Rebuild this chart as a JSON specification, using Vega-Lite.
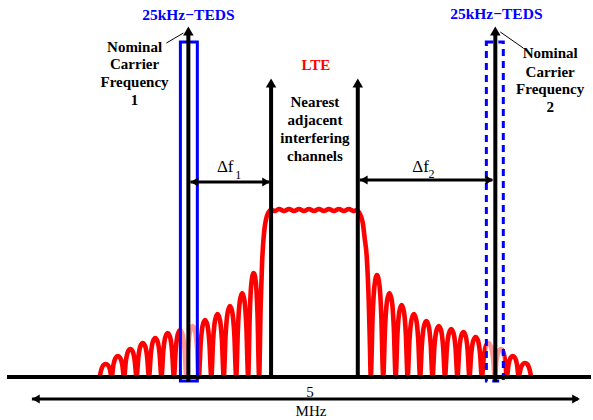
{
  "$schema": "https://vega.github.io/schema/vega-lite/v6.json",
  "width": 593,
  "height": 420,
  "autosize": {"type": "fit", "contains": "padding"},
  "padding": 0,
  "background": "white",
  "config": {"view": {"stroke": null}},
  "datasets": {
    "spectrum": [
      {"x":100,"y":0},{"x":101.8,"y":7.8},{"x":103.6,"y":11.7},{"x":106,"y":13},{"x":108.4,"y":11.7},{"x":110.2,"y":7.8},{"x":112,"y":0},
      {"x":113.9,"y":12.6},{"x":115.8,"y":18.9},{"x":118.25,"y":21},{"x":120.75,"y":18.9},{"x":122.6,"y":12.6},{"x":124.5,"y":0},
      {"x":126.4,"y":16.8},{"x":128.3,"y":25.2},{"x":130.75,"y":28},{"x":133.25,"y":25.2},{"x":135.1,"y":16.8},{"x":137,"y":0},
      {"x":138.9,"y":20.4},{"x":140.8,"y":30.6},{"x":143.25,"y":34},{"x":145.75,"y":30.6},{"x":147.6,"y":20.4},{"x":149.5,"y":0},
      {"x":151.4,"y":23.4},{"x":153.3,"y":35.1},{"x":155.75,"y":39},{"x":158.25,"y":35.1},{"x":160.1,"y":23.4},{"x":162,"y":0},
      {"x":163.9,"y":26.4},{"x":165.8,"y":39.6},{"x":168.25,"y":44},{"x":170.75,"y":39.6},{"x":172.6,"y":26.4},{"x":174.5,"y":0},
      {"x":176.4,"y":28.2},{"x":178.3,"y":42.3},{"x":180.75,"y":47},{"x":183.25,"y":42.3},{"x":185.1,"y":28.2},{"x":187,"y":0},
      {"x":188.9,"y":30.6},{"x":190.8,"y":45.9},{"x":193.25,"y":51},{"x":195.75,"y":45.9},{"x":197.6,"y":30.6},{"x":199.5,"y":0},
      {"x":201.4,"y":34.2},{"x":203.3,"y":51.3},{"x":205.75,"y":57},{"x":208.25,"y":51.3},{"x":210.1,"y":34.2},{"x":212,"y":0},
      {"x":213.9,"y":37.8},{"x":215.8,"y":56.7},{"x":218.25,"y":63},{"x":220.75,"y":56.7},{"x":222.6,"y":37.8},{"x":224.5,"y":0},
      {"x":226.4,"y":42.6},{"x":228.3,"y":63.9},{"x":230.75,"y":71},{"x":233.25,"y":63.9},{"x":235.1,"y":42.6},{"x":237,"y":0},
      {"x":238.8,"y":50.4},{"x":240.6,"y":75.6},{"x":243,"y":84},{"x":245.4,"y":75.6},{"x":247.2,"y":50.4},{"x":249,"y":0},
      {"x":250.6,"y":62.4},{"x":252.2,"y":93.6},{"x":254.5,"y":104},{"x":256.8,"y":93.6},{"x":258.4,"y":62.4},{"x":260,"y":0},
      {"x":261.5,"y":70},{"x":263,"y":115},{"x":265,"y":145},{"x":267,"y":158},{"x":269,"y":164},{"x":272,"y":167},
      {"x":276,"y":166},{"x":280,"y":168},{"x":285,"y":166},{"x":290,"y":168},{"x":295,"y":166},{"x":300,"y":168},{"x":305,"y":166},
      {"x":310,"y":168},{"x":315,"y":166},{"x":320,"y":168},{"x":325,"y":166},{"x":330,"y":168},{"x":335,"y":166},{"x":340,"y":168},
      {"x":345,"y":166},{"x":350,"y":168},{"x":355,"y":166},{"x":358,"y":167},
      {"x":360,"y":165},{"x":362,"y":161},{"x":364,"y":154},{"x":366,"y":138},{"x":368,"y":120},{"x":370,"y":75},{"x":371.2,"y":30},{"x":372,"y":0},
      {"x":373.9,"y":61.2},{"x":375.8,"y":91.8},{"x":378.25,"y":102},{"x":380.75,"y":91.8},{"x":382.6,"y":61.2},{"x":384.5,"y":0},
      {"x":386.4,"y":50.4},{"x":388.3,"y":75.6},{"x":390.75,"y":84},{"x":393.25,"y":75.6},{"x":395.1,"y":50.4},{"x":397,"y":0},
      {"x":398.8,"y":43.2},{"x":400.6,"y":64.8},{"x":403,"y":72},{"x":405.4,"y":64.8},{"x":407.2,"y":43.2},{"x":409,"y":0},
      {"x":410.9,"y":37.8},{"x":412.8,"y":56.7},{"x":415.25,"y":63},{"x":417.75,"y":56.7},{"x":419.6,"y":37.8},{"x":421.5,"y":0},
      {"x":423.4,"y":33.6},{"x":425.3,"y":50.4},{"x":427.75,"y":56},{"x":430.25,"y":50.4},{"x":432.1,"y":33.6},{"x":434,"y":0},
      {"x":435.9,"y":30.6},{"x":437.8,"y":45.9},{"x":440.25,"y":51},{"x":442.75,"y":45.9},{"x":444.6,"y":30.6},{"x":446.5,"y":0},
      {"x":448.4,"y":28.8},{"x":450.3,"y":43.2},{"x":452.75,"y":48},{"x":455.25,"y":43.2},{"x":457.1,"y":28.8},{"x":459,"y":0},
      {"x":460.8,"y":27},{"x":462.6,"y":40.5},{"x":465,"y":45},{"x":467.4,"y":40.5},{"x":469.2,"y":27},{"x":471,"y":0},
      {"x":472.9,"y":24},{"x":474.8,"y":36},{"x":477.25,"y":40},{"x":479.75,"y":36},{"x":481.6,"y":24},{"x":483.5,"y":0},
      {"x":485.5,"y":20.4},{"x":487.4,"y":30.6},{"x":490,"y":34},{"x":492.6,"y":30.6},{"x":494.5,"y":20.4},{"x":496.5,"y":0},
      {"x":498.3,"y":16.8},{"x":500.1,"y":25.2},{"x":502.5,"y":28},{"x":504.9,"y":25.2},{"x":506.7,"y":16.8},{"x":508.5,"y":0},
      {"x":510.3,"y":12.6},{"x":512.1,"y":18.9},{"x":514.5,"y":21},{"x":516.9,"y":18.9},{"x":518.7,"y":12.6},{"x":520.5,"y":0},
      {"x":522.4,"y":8.4},{"x":524.3,"y":12.6},{"x":526.75,"y":14},{"x":529.25,"y":12.6},{"x":531.1,"y":8.4},{"x":533,"y":0}
    ],
    "boxSolid": [{"x":181,"x2":198,"y":-4,"y2":335}],
    "boxDashed": [{"x":488,"x2":505,"y":-4,"y2":335}],
    "vlines": [
      {"x":189,"y":-5,"y2":346},
      {"x":272,"y":-2,"y2":294},
      {"x":359,"y":-2,"y2":294},
      {"x":497,"y":-5,"y2":346}
    ],
    "upHeads": [
      {"x":189,"y":346},{"x":272,"y":294},{"x":359,"y":294},{"x":497,"y":346}
    ],
    "hlines": [
      {"x":191,"x2":270,"y":195},
      {"x":361,"x2":494,"y":197},
      {"x":32,"x2":580,"y":-22}
    ],
    "leftHeads": [{"x":195,"y":195},{"x":365,"y":197},{"x":36,"y":-22}],
    "rightHeads": [{"x":267,"y":195},{"x":491,"y":197},{"x":578,"y":-22}],
    "baseline": [{"x":7,"x2":593,"y":0}],
    "leaders": [
      {"x":167,"x2":184,"y":334,"y2":344},
      {"x":502,"x2":525,"y":345,"y2":329}
    ],
    "tedsLabels": [
      {"x":189,"y":362,"label":"25kHz−TEDS"},
      {"x":498,"y":363,"label":"25kHz−TEDS"}
    ],
    "lteLabel": [{"x":317,"y":312,"label":"LTE"}],
    "boldLabels": [
      {"x":135,"y":330,"label":"Nominal"},
      {"x":135,"y":313,"label":"Carrier"},
      {"x":135,"y":295,"label":"Frequency"},
      {"x":135,"y":277,"label":"1"},
      {"x":552,"y":324,"label":"Nominal"},
      {"x":552,"y":305,"label":"Carrier"},
      {"x":552,"y":288,"label":"Frequency"},
      {"x":552,"y":270,"label":"2"},
      {"x":316,"y":275,"label":"Nearest"},
      {"x":316,"y":257,"label":"adjacent"},
      {"x":316,"y":239,"label":"interfering"},
      {"x":316,"y":221,"label":"channels"}
    ],
    "deltaLabels": [
      {"x":226,"y":210,"label":"Δf"},
      {"x":422,"y":210,"label":"Δf"}
    ],
    "subLabels": [
      {"x":239,"y":202,"label":"1"},
      {"x":433,"y":203,"label":"2"}
    ],
    "fiveLabel": [{"x":311,"y":-20,"label":"5"}],
    "unitLabel": [{"x":312,"y":-34,"label":"MHz"}]
  },
  "encoding": {
    "x": {"field":"x","type":"quantitative","scale":{"domain":[0,593],"nice":false,"zero":false},"axis":null},
    "y": {"field":"y","type":"quantitative","scale":{"domain":[-43,377],"nice":false,"zero":false},"axis":null}
  },
  "layer": [
    {
      "data": {"name":"spectrum"},
      "mark": {"type":"line","color":"#ff0000","strokeWidth":4.6,"interpolate":"monotone","strokeJoin":"round"}
    },
    {
      "data": {"name":"boxSolid"},
      "mark": {"type":"rect","fill":"white","fillOpacity":0.6,"stroke":"#0000ff","strokeWidth":3},
      "encoding": {"x2":{"field":"x2"},"y2":{"field":"y2"}}
    },
    {
      "data": {"name":"boxDashed"},
      "mark": {"type":"rect","fill":"white","fillOpacity":0.6,"stroke":"#0000ff","strokeWidth":3,"strokeDash":[7,5]},
      "encoding": {"x2":{"field":"x2"},"y2":{"field":"y2"}}
    },
    {
      "data": {"name":"fiveLabel"},
      "mark": {"type":"text","font":"Liberation Serif","fontSize":15,"color":"black","baseline":"alphabetic","align":"center"},
      "encoding": {"text":{"field":"label"}}
    },
    {
      "data": {"name":"vlines"},
      "mark": {"type":"rule","color":"black","strokeWidth":4},
      "encoding": {"y2":{"field":"y2"}}
    },
    {
      "data": {"name":"upHeads"},
      "mark": {"type":"point","shape":"triangle-up","filled":true,"color":"black","size":110,"opacity":1}
    },
    {
      "data": {"name":"hlines"},
      "mark": {"type":"rule","color":"black","strokeWidth":3},
      "encoding": {"x2":{"field":"x2"}}
    },
    {
      "data": {"name":"leftHeads"},
      "mark": {"type":"point","shape":"triangle-left","filled":true,"color":"black","size":80,"opacity":1}
    },
    {
      "data": {"name":"rightHeads"},
      "mark": {"type":"point","shape":"triangle-right","filled":true,"color":"black","size":80,"opacity":1}
    },
    {
      "data": {"name":"baseline"},
      "mark": {"type":"rule","color":"black","strokeWidth":4},
      "encoding": {"x2":{"field":"x2"}}
    },
    {
      "data": {"name":"leaders"},
      "mark": {"type":"rule","color":"black","strokeWidth":1},
      "encoding": {"x2":{"field":"x2"},"y2":{"field":"y2"}}
    },
    {
      "data": {"name":"tedsLabels"},
      "mark": {"type":"text","font":"Liberation Serif","fontWeight":"bold","fontSize":15.5,"color":"#0000ff","baseline":"middle","align":"center"},
      "encoding": {"text":{"field":"label"}}
    },
    {
      "data": {"name":"lteLabel"},
      "mark": {"type":"text","font":"Liberation Serif","fontWeight":"bold","fontSize":15,"color":"#ff0000","baseline":"middle","align":"center"},
      "encoding": {"text":{"field":"label"}}
    },
    {
      "data": {"name":"boldLabels"},
      "mark": {"type":"text","font":"Liberation Serif","fontWeight":"bold","fontSize":15,"color":"black","baseline":"middle","align":"center"},
      "encoding": {"text":{"field":"label"}}
    },
    {
      "data": {"name":"deltaLabels"},
      "mark": {"type":"text","font":"Liberation Serif","fontSize":17,"color":"black","baseline":"middle","align":"center"},
      "encoding": {"text":{"field":"label"}}
    },
    {
      "data": {"name":"subLabels"},
      "mark": {"type":"text","font":"Liberation Serif","fontSize":12,"color":"black","baseline":"middle","align":"center"},
      "encoding": {"text":{"field":"label"}}
    },
    {
      "data": {"name":"unitLabel"},
      "mark": {"type":"text","font":"Liberation Serif","fontSize":15,"color":"black","baseline":"middle","align":"center"},
      "encoding": {"text":{"field":"label"}}
    }
  ]
}
